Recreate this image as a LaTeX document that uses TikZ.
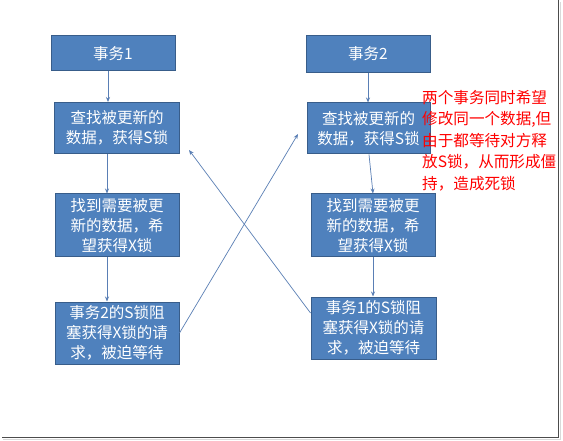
\documentclass[tikz,border=0pt]{standalone}
\usepackage{fontspec}
\setmainfont{Noto Sans CJK SC}
\usetikzlibrary{arrows.meta}
\definecolor{boxfill}{HTML}{4F81BD}
\definecolor{boxline}{HTML}{385D8A}
\definecolor{arrowc}{HTML}{5A7FB5}
\tikzset{
  stepbox/.style={draw=boxline, line width=1pt, fill=boxfill, text=white,
    font=\fontsize{15.5}{20}\selectfont, align=center, inner sep=0pt},
  conn/.style={draw=arrowc, line width=0.7pt, -{Stealth[length=5pt,width=4pt]}},
  note/.style={text=red, font=\fontsize{15.6}{21.5}\selectfont, align=left, anchor=north west, inner sep=0pt}
}
\begin{document}
\begin{tikzpicture}[x=1pt,y=-1pt]
\useasboundingbox (0,0) rectangle (563,441);
\fill[white] (0,0) rectangle (563,441);
% frame shadow
\draw[black!15, line width=1.5pt] (3,439.5) -- (560.5,439.5) -- (560.5,2);
\draw[black!70, line width=1.2pt] (2,437.8) -- (558.6,437.8) -- (558.6,0);
% left column
\node[stepbox, minimum width=124pt, minimum height=35pt] (t1) at (113,53.5) {事务1};
\node[stepbox, minimum width=125pt, minimum height=51pt] (l1) at (117,128) {查找被更新的\\数据，获得S锁};
\node[stepbox, minimum width=124pt, minimum height=63pt] (l2) at (117,225.5) {找到需要被更\\新的数据，希\\望获得X锁};
\node[stepbox, minimum width=124pt, minimum height=62pt] (l3) at (117,333) {事务2的S锁阻\\塞获得X锁的请\\求，被迫等待};
% right column
\node[stepbox, minimum width=124pt, minimum height=37pt] (t2) at (368,54) {事务2};
\node[stepbox, minimum width=123pt, minimum height=51pt] (r1) at (368.5,128.5) {查找被更新的\\数据，获得S锁};
\node[stepbox, minimum width=124pt, minimum height=63pt] (r2) at (373,225.5) {找到需要被更\\新的数据，希\\望获得X锁};
\node[stepbox, minimum width=125pt, minimum height=62pt] (r3) at (373.5,328) {事务1的S锁阻\\塞获得X锁的请\\求，被迫等待};
% note
\node[note] (n) at (422,90) {两个事务同时希望\\修改同一个数据,但\\由于都等待对方释\\放S锁，从而形成僵\\持，造成死锁};
% connectors
\coordinate (c1) at (189,150);
\coordinate (c2) at (298,134);
\draw[conn] (t1.south -| 108,0) -- (l1.north -| 108,0);
\draw[conn] (l1.south -| 107,0) -- (l2.north -| 107,0);
\draw[conn] (l2.south -| 107,0) -- (l3.north -| 107,0);
\draw[conn] (t2.south -| 368,0) -- (r1.north -| 368,0);
\draw[conn] (r1.south -| 369,0) -- (r2.north -| 373,0);
\draw[conn] (r2.south -| 373,0) -- (r3.north -| 373,0);
\draw[conn] (l3.east |- 0,333) -- (c2);
\draw[conn] (r3.west |- 0,313) -- (c1);
\end{tikzpicture}
\end{document}
